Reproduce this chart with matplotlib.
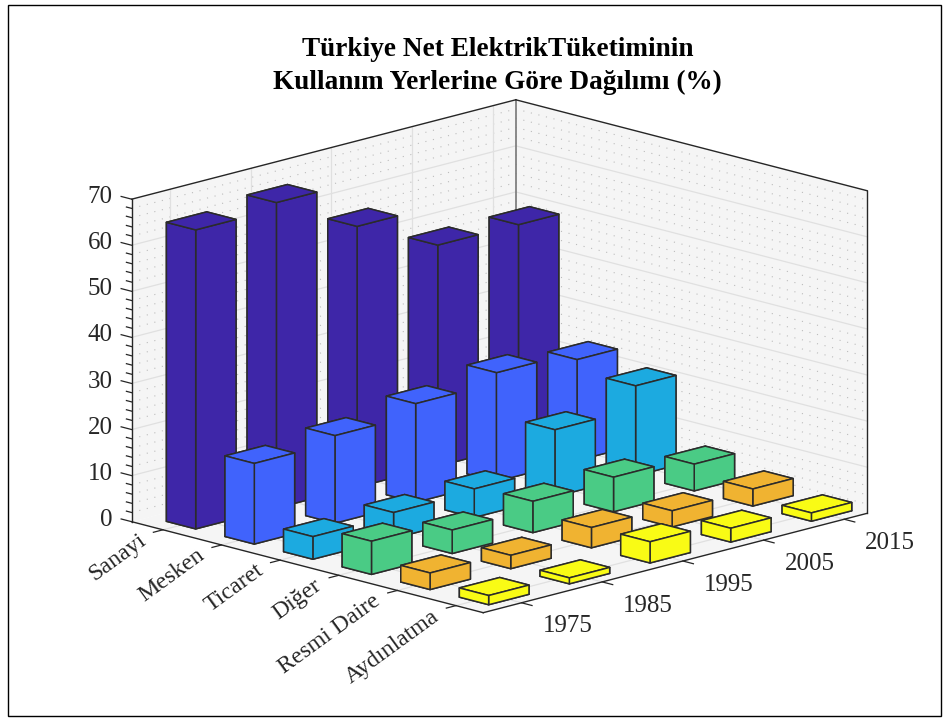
import matplotlib
matplotlib.use('Agg')
import matplotlib.pyplot as plt
from matplotlib.patches import Rectangle
from mpl_toolkits.mplot3d import proj3d
from mpl_toolkits.mplot3d.art3d import Poly3DCollection

plt.rcParams['font.family'] = ['Liberation Serif', 'DejaVu Serif']

categories = ['Sanayi', 'Mesken', 'Ticaret', 'Diğer', 'Resmi Daire', 'Aydınlatma']
years = ['1975', '1985', '1995', '2005', '2015']
sanayi = [64.9, 66.3, 56.6, 48.0, 47.9]
mesken = [17.5, 19.0, 21.4, 23.6, 21.9]
ticaret = [4.9, 5.6, 6.2, 14.5, 19.5]
diger = [7.2, 5.1, 6.8, 7.5, 5.8]
resmi = [3.6, 2.9, 4.4, 3.5, 3.7]
aydinlatma = [2.0, 1.3, 4.6, 3.0, 1.8]
series = [sanayi, mesken, ticaret, diger, resmi, aydinlatma]
colors = ['#3e26a8', '#4063fc', '#1caae0', '#4acb85', '#f0b331', '#f9fb15']

W, H = 944, 718
SIDE = 1100
xmin, xmax = 0.466, 6.466
ymin, ymax = 0.526, 5.286
zmin, zmax = 0, 70
DARK = '#262626'

fig = plt.figure(figsize=(W / 100, H / 100), dpi=100)
fig.add_artist(Rectangle((7.5 / W, 1 - 716 / H), 933.5 / W, 711.5 / H, transform=fig.transFigure,
                         fill=False, edgecolor='black', linewidth=1.0))
ax = fig.add_axes([0, 0, SIDE / W, SIDE / H], projection='3d', computed_zorder=False)
ax.patch.set_alpha(0)
ax.set_proj_type('ortho')
ax.view_init(elev=15, azim=-45)
ax.set_xlim(xmin, xmax)
ax.set_ylim(ymin, ymax)
ax.set_zlim(zmin, zmax)
ax.set_axis_off()


def to_px(x, y, z):
    X, Y, _ = proj3d.proj_transform(x, y, z, ax.get_proj())
    return ax.transData.transform((X, Y))


def label(x, y, z, s, dx=0, dy=0, size=18, **kw):
    # Text3D ignores rotation, so labels go on the figure at the projected spot
    px, py = to_px(x, y, z)
    fig.text((px + dx) / W, (py + dy) / H, s, fontsize=size, color=DARK, **kw)


# fit the box onto the corners measured in the picture
aspect = (497, 543, 333.8)
ax.set_box_aspect(aspect, zoom=1)
span = abs(to_px(xmax, ymax, 0)[0] - to_px(xmin, ymin, 0)[0])
ax.set_box_aspect(aspect, zoom=735.6 / span)
left = to_px(xmin, ymin, 0)
x0 = 131.7 - left[0]
y0 = (H - 521.7) - left[1]
ax.set_position([x0 / W, y0 / H, SIDE / W, SIDE / H])

# walls and floor
wall = '#f5f5f5'
faces = [[(xmin, ymin, 0), (xmin, ymax, 0), (xmin, ymax, zmax), (xmin, ymin, zmax)],
         [(xmin, ymax, 0), (xmax, ymax, 0), (xmax, ymax, zmax), (xmin, ymax, zmax)],
         [(xmin, ymin, 0), (xmax, ymin, 0), (xmax, ymax, 0), (xmin, ymax, 0)]]
ax.add_collection3d(Poly3DCollection(faces, facecolor=wall, edgecolor='none', zorder=1))

grid_c = '#e0e0e0'
minor_c = '#bcbcbc'
dots = (0, (1, 6))
for z in range(0, 71, 2):
    if z % 10:
        ax.plot([xmin, xmin], [ymin, ymax], [z, z], color=minor_c, lw=0.8, ls=dots, zorder=2)
        ax.plot([xmin, xmax], [ymax, ymax], [z, z], color=minor_c, lw=0.8, ls=dots, zorder=2)
for z in range(10, 70, 10):
    ax.plot([xmin, xmin], [ymin, ymax], [z, z], color=grid_c, lw=0.9, zorder=3)
    ax.plot([xmin, xmax], [ymax, ymax], [z, z], color=grid_c, lw=0.9, zorder=3)
for j in range(1, len(years) + 1):
    ax.plot([xmin, xmin], [j, j], [0, zmax], color=grid_c, lw=0.9, zorder=3)
    ax.plot([xmin, xmax], [j, j], [0, 0], color=grid_c, lw=0.9, zorder=3)
for i in range(1, len(categories) + 1):
    ax.plot([i, i], [ymin, ymax], [0, 0], color=grid_c, lw=0.9, zorder=3)
ax.plot([xmin, xmin], [ymax, ymax], [0, zmax], color='#808080', lw=1.3, zorder=4)

# box edges
box = [((xmin, ymin, 0), (xmin, ymin, zmax)),
       ((xmin, ymin, zmax), (xmin, ymax, zmax)),
       ((xmin, ymax, zmax), (xmax, ymax, zmax)),
       ((xmax, ymax, zmax), (xmax, ymax, 0)),
       ((xmin, ymin, 0), (xmax, ymin, 0)),
       ((xmax, ymin, 0), (xmax, ymax, 0))]
for a, b in box:
    ax.plot(*zip(a, b), color=DARK, lw=1.0, zorder=5)

# ticks
tx = 0.03 * (xmax - xmin)
ty = 0.025 * (ymax - ymin)
for z in range(0, 71, 2):
    length = tx if z % 10 == 0 else tx / 2
    ax.plot([xmin - length, xmin], [ymin, ymin], [z, z], color=DARK, lw=0.9, zorder=5)
for z in range(0, 71, 10):
    label(xmin - 0.324, ymin, z, str(z), dy=-3, ha='right', va='center')
for i, name in enumerate(categories, 1):
    ax.plot([i, i], [ymin - ty, ymin], [0, 0], color=DARK, lw=0.9, zorder=5)
    label(i, ymin, 0, name, dx=-16, dy=-13, size=17.2, ha='right', va='baseline', rotation=36,
          rotation_mode='anchor')
for j, name in enumerate(years, 1):
    ax.plot([xmax, xmax + tx], [j, j], [0, 0], color=DARK, lw=0.9, zorder=5)
    label(xmax + 0.77, j, 0, name, dx=1, dy=-12, ha='center', va='center')

# bars, back to front
k = 10
for i, vals in enumerate(series, 1):
    for j in range(len(years), 0, -1):
        ax.bar3d(i - 0.25, j - 0.25, 0, 0.5, 0.5, vals[j - 1], color=colors[i - 1], shade=False,
                 edgecolor='#2b2b2b', linewidth=1.1, zorder=k)
        k += 1

fig.text(497.5 / W, 1 - 49 / H, 'Türkiye Net ElektrikTüketiminin', ha='center', va='center',
         fontsize=19.6, fontweight='bold', color='black')
fig.text(497.5 / W, 1 - 82 / H, 'Kullanım Yerlerine Göre Dağılımı (%)', ha='center', va='center',
         fontsize=19.6, fontweight='bold', color='black')

fig.savefig('out.png', dpi=100)
